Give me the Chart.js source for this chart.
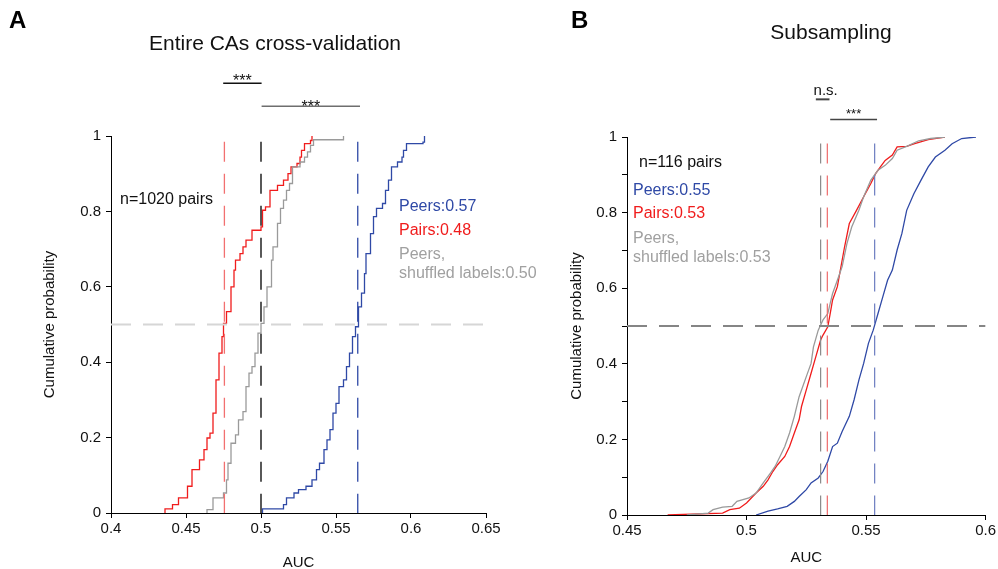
<!DOCTYPE html>
<html><head><meta charset="utf-8">
<script src="https://cdn.jsdelivr.net/npm/chart.js@4/dist/chart.umd.min.js"></script>
<style>
html,body{margin:0;padding:0;background:#fff;}
#wrap{position:relative;width:998px;height:569px;overflow:hidden;background:#fff;}
.pan{position:absolute;top:0;height:575px;}
</style></head><body>
<div id="wrap">
<div class="pan" style="left:520px;width:478px"><canvas id="cB"></canvas></div>
<div class="pan" style="left:0;width:560px"><canvas id="cA"></canvas></div>
</div>
<script>
// ===== Panel A: Entire CAs cross-validation (empirical CDFs) =====
const aPairsAUC = [0.436,0.436,0.441,0.445,0.451,0.454,0.459,0.462,0.464,0.466,0.468,0.470,0.472,0.474,0.475,0.477,0.480,0.482,0.483,0.486,0.488,0.490,0.494,0.500,0.501,0.503,0.506,0.511,0.515,0.518,0.520,0.524,0.526,0.527,0.529,0.533,0.534];
const aPairsCum = [0,0.011,0.022,0.040,0.071,0.115,0.141,0.168,0.199,0.212,0.265,0.353,0.424,0.468,0.503,0.534,0.600,0.644,0.671,0.688,0.706,0.724,0.750,0.759,0.803,0.812,0.856,0.869,0.883,0.900,0.918,0.927,0.944,0.962,0.980,0.988,1.000];
const aShufAUC = [0.464,0.464,0.468,0.475,0.477,0.478,0.480,0.483,0.485,0.488,0.490,0.492,0.494,0.496,0.498,0.500,0.502,0.504,0.507,0.508,0.511,0.513,0.515,0.517,0.519,0.521,0.526,0.529,0.531,0.533,0.535,0.555];
const aShufCum = [0,0.009,0.040,0.053,0.088,0.132,0.185,0.207,0.247,0.269,0.335,0.371,0.388,0.424,0.477,0.503,0.547,0.600,0.671,0.706,0.768,0.808,0.830,0.856,0.874,0.918,0.931,0.944,0.958,0.975,0.990,1.000];
const aPeersAUC = [0.501,0.501,0.515,0.517,0.522,0.525,0.530,0.534,0.537,0.539,0.542,0.544,0.546,0.548,0.550,0.552,0.555,0.557,0.559,0.561,0.563,0.565,0.567,0.569,0.570,0.573,0.575,0.577,0.581,0.583,0.585,0.587,0.591,0.594,0.595,0.597,0.608,0.609];
const aPeersCum = [0,0.011,0.022,0.040,0.053,0.062,0.071,0.088,0.115,0.132,0.168,0.194,0.221,0.265,0.291,0.335,0.353,0.388,0.424,0.468,0.494,0.547,0.583,0.635,0.688,0.741,0.786,0.808,0.821,0.856,0.883,0.918,0.931,0.944,0.962,0.980,0.984,1.000];
const aMedians = [0.4756, 0.5, 0.5645];          // pairs, shuffled, peers
const aXTicks = [0.4,0.45,0.5,0.55,0.6,0.65];
const aXTickLabels = ['0.4','0.45','0.5','0.55','0.6','0.65'];
const aYTicks = [0,0.2,0.4,0.6,0.8,1];
const aYTickLabels = ['0','0.2','0.4','0.6','0.8','1'];
const aLegend = ['Peers:0.57','Pairs:0.48','Peers,','shuffled labels:0.50'];
const aBrackets = [[0.4748,0.5004,'***'],[0.5004,0.5660,'***']];

// ===== Panel B: Subsampling =====
const bPairsAUC = [0.467,0.490,0.493,0.497,0.500,0.502,0.504,0.507,0.509,0.511,0.513,0.516,0.518,0.520,0.522,0.523,0.525,0.527,0.529,0.531,0.532,0.534,0.535,0.536,0.538,0.539,0.541,0.543,0.546,0.549,0.552,0.554,0.556,0.558,0.561,0.563,0.567,0.570,0.576,0.583];
const bPairsCum = [0,0.005,0.014,0.018,0.032,0.045,0.058,0.076,0.093,0.115,0.133,0.155,0.181,0.217,0.252,0.287,0.331,0.375,0.419,0.463,0.476,0.498,0.533,0.569,0.604,0.639,0.709,0.771,0.806,0.842,0.877,0.903,0.921,0.938,0.952,0.974,0.975,0.982,0.993,1.000];
const bShufAUC = [0.475,0.484,0.486,0.490,0.494,0.496,0.501,0.504,0.507,0.510,0.512,0.514,0.516,0.518,0.520,0.522,0.525,0.527,0.528,0.530,0.532,0.534,0.535,0.536,0.538,0.540,0.542,0.544,0.547,0.549,0.552,0.555,0.558,0.561,0.563,0.567,0.572,0.577,0.583];
const bShufCum = [0,0.005,0.014,0.021,0.023,0.036,0.045,0.058,0.085,0.111,0.129,0.155,0.181,0.217,0.261,0.313,0.366,0.401,0.445,0.489,0.516,0.533,0.560,0.586,0.621,0.657,0.718,0.762,0.806,0.842,0.886,0.912,0.925,0.943,0.965,0.975,0.990,0.996,1.000];
const bPeersAUC = [0.504,0.509,0.513,0.517,0.520,0.522,0.525,0.527,0.530,0.532,0.534,0.536,0.538,0.540,0.543,0.545,0.547,0.549,0.551,0.553,0.555,0.557,0.559,0.561,0.563,0.565,0.567,0.570,0.573,0.576,0.579,0.583,0.586,0.590,0.596];
const bPeersCum = [0,0.010,0.016,0.023,0.036,0.049,0.067,0.085,0.098,0.115,0.142,0.181,0.190,0.221,0.261,0.305,0.357,0.401,0.454,0.489,0.533,0.577,0.621,0.648,0.701,0.745,0.806,0.850,0.886,0.921,0.947,0.965,0.982,0.996,1.000];
const bMedians = [0.5338, 0.5310, 0.5536];        // pairs, shuffled, peers
const bXTicks = [0.45,0.5,0.55,0.6];
const bXTickLabels = ['0.45','0.5','0.55','0.6'];
const bYTicks = [0,0.1,0.2,0.3,0.4,0.5,0.6,0.7,0.8,0.9,1];
const bYTickLabels = ['0','','0.2','','0.4','','0.6','','0.8','','1'];
const bLegend = ['Peers:0.55','Pairs:0.53','Peers,','shuffled labels:0.53'];
const bBrackets = [[0.5290,0.5347,'n.s.'],[0.5350,0.5546,'***']];

// ===== helpers =====
const FONT = "'Liberation Sans', Arial, sans-serif";
const RED = '#f01c1c', BLUE = '#2f49a6', GRAY = '#9a9a9a';
const pts = (xs, ys) => xs.map((x, i) => ({x, y: ys[i]}));

const textPlugin = {
  id: 'texts',
  afterDatasetsDraw(chart, args, opts) {
    const ctx = chart.ctx, xs = chart.scales.x, ys = chart.scales.y;
    ctx.save();
    (opts.brackets || []).forEach(b => {
      const x0 = xs.getPixelForValue(b.x0), x1 = xs.getPixelForValue(b.x1), y = ys.getPixelForValue(b.y);
      ctx.strokeStyle = b.color; ctx.lineWidth = b.width; ctx.setLineDash([]);
      ctx.beginPath(); ctx.moveTo(x0, y); ctx.lineTo(x1, y); ctx.stroke();
      ctx.fillStyle = b.textColor; ctx.font = b.font; ctx.textAlign = 'center'; ctx.textBaseline = 'alphabetic';
      ctx.fillText(b.label, (x0 + x1) / 2 + b.dx, y + b.dy);
    });
    (opts.items || []).forEach(t => {
      ctx.fillStyle = t.color; ctx.font = t.font; ctx.textAlign = t.align || 'left'; ctx.textBaseline = t.base || 'middle';
      ctx.fillText(t.text, t.x, t.y);
    });
    ctx.restore();
  }
};

function axis(min, max, ticks, labels, size, titleText, titlePad, tickPad, isX) {
  return {
    type: 'linear', min, max,
    afterBuildTicks: s => { s.ticks = ticks.map(v => ({value: v})); },
    afterFit: s => { if (isX) s.height = size; else s.width = size; },
    grid: {display: true, drawOnChartArea: false, drawTicks: true, tickLength: 5, color: '#000', lineWidth: 1},
    border: {display: true, color: '#000', width: 1},
    ticks: {autoSkip: false, maxRotation: 0, padding: tickPad, color: '#111',
      font: {family: FONT, size: 15},
      callback: (v) => { const i = ticks.findIndex(t => Math.abs(t - v) < 1e-9); return i >= 0 ? labels[i] : ''; }},
    title: {display: true, text: titleText, color: '#111', font: {family: FONT, size: 15}, padding: titlePad}
  };
}

function lineDs(data, color, width, extra) {
  return Object.assign({data, borderColor: color, backgroundColor: color, borderWidth: width,
    pointRadius: 0, fill: false, tension: 0}, extra || {});
}

// ===== Panel A chart =====
new Chart(document.getElementById('cA'), {
  type: 'line',
  data: {datasets: [
    lineDs([{x: 0.4, y: 0.5}, {x: 0.648, y: 0.5}], '#d6d6d6', 2, {borderDash: [20, 12]}),
    lineDs([{x: aMedians[0], y: 0.985}, {x: aMedians[0], y: 0}], '#f27070', 1.3, {borderDash: [20, 12]}),
    lineDs([{x: aMedians[1], y: 0.985}, {x: aMedians[1], y: 0}], '#000000', 1.3, {borderDash: [20, 12]}),
    lineDs([{x: aMedians[2], y: 0.985}, {x: aMedians[2], y: 0}], BLUE, 1.3, {borderDash: [20, 12]}),
    lineDs(pts(aShufAUC, aShufCum), GRAY, 1.3, {stepped: 'before'}),
    lineDs(pts(aPairsAUC, aPairsCum), RED, 1.3, {stepped: 'before'}),
    lineDs(pts(aPeersAUC, aPeersCum), BLUE, 1.3, {stepped: 'before'})
  ]},
  options: {
    responsive: true, maintainAspectRatio: false, animation: false, events: [],
    layout: {padding: {left: 0, top: 136, right: 74, bottom: 0}},
    plugins: {legend: {display: false}, tooltip: {enabled: false},
      texts: {
        brackets: [
          {x0: aBrackets[0][0], x1: aBrackets[0][1], label: aBrackets[0][2], y: 1.14, color: '#111', width: 1.5, textColor: '#111', font: `16px ${FONT}`, dx: 0, dy: 3},
          {x0: aBrackets[1][0], x1: aBrackets[1][1], label: aBrackets[1][2], y: 1.079, color: '#6e6e6e', width: 1.5, textColor: '#111', font: `16px ${FONT}`, dx: 0, dy: 6}
        ],
        items: [
          {text: 'A', x: 9, y: 28, color: '#000', font: `bold 24px ${FONT}`, base: 'alphabetic'},
          {text: 'Entire CAs cross-validation', x: 275, y: 44, color: '#111', font: `21px ${FONT}`, align: 'center'},
          {text: 'n=1020 pairs', x: 120, y: 200, color: '#111', font: `16px ${FONT}`},
          {text: aLegend[0], x: 399, y: 207, color: BLUE, font: `16px ${FONT}`},
          {text: aLegend[1], x: 399, y: 231, color: RED, font: `16px ${FONT}`},
          {text: aLegend[2], x: 399, y: 255, color: '#a0a0a0', font: `16px ${FONT}`},
          {text: aLegend[3], x: 399, y: 274, color: '#a0a0a0', font: `16px ${FONT}`}
        ]
      }
    },
    scales: {
      x: axis(0.4, 0.65, aXTicks, aXTickLabels, 62, 'AUC', {top: 0, bottom: 3}, 2, true),
      y: axis(0, 1, aYTicks, aYTickLabels, 111, 'Cumulative probability', {top: 41, bottom: 0}, 5, false)
    }
  },
  plugins: [textPlugin]
});

// ===== Panel B chart =====
new Chart(document.getElementById('cB'), {
  type: 'line',
  data: {datasets: [
    lineDs([{x: 0.45, y: 0.5}, {x: 0.6, y: 0.5}], '#858585', 2, {borderDash: [20, 12]}),
    lineDs([{x: bMedians[1], y: 0.983}, {x: bMedians[1], y: 0}], '#8c8c8c', 1.2, {borderDash: [20, 12]}),
    lineDs([{x: bMedians[0], y: 0.983}, {x: bMedians[0], y: 0}], '#ee6a6a', 1.2, {borderDash: [20, 12]}),
    lineDs([{x: bMedians[2], y: 0.983}, {x: bMedians[2], y: 0}], '#6b7cc0', 1.2, {borderDash: [20, 12]}),
    lineDs(pts(bShufAUC, bShufCum), GRAY, 1.3),
    lineDs(pts(bPairsAUC, bPairsCum), RED, 1.3),
    lineDs(pts(bPeersAUC, bPeersCum), BLUE, 1.3)
  ]},
  options: {
    responsive: true, maintainAspectRatio: false, animation: false, events: [],
    layout: {padding: {left: 0, top: 137, right: 10, bottom: 0}},
    plugins: {legend: {display: false}, tooltip: {enabled: false},
      texts: {
        brackets: [
          {x0: bBrackets[0][0], x1: bBrackets[0][1], label: bBrackets[0][2], y: 1.0996, color: '#444', width: 2, textColor: '#111', font: `15px ${FONT}`, dx: 3, dy: -4},
          {x0: bBrackets[1][0], x1: bBrackets[1][1], label: bBrackets[1][2], y: 1.046, color: '#444', width: 1.5, textColor: '#111', font: `13px ${FONT}`, dx: 0, dy: -2}
        ],
        items: [
          {text: 'B', x: 51, y: 28, color: '#000', font: `bold 24px ${FONT}`, base: 'alphabetic'},
          {text: 'Subsampling', x: 311, y: 33, color: '#111', font: `21px ${FONT}`, align: 'center'},
          {text: 'n=116 pairs', x: 119, y: 163, color: '#111', font: `16px ${FONT}`},
          {text: bLegend[0], x: 113, y: 191, color: BLUE, font: `16px ${FONT}`},
          {text: bLegend[1], x: 113, y: 214, color: RED, font: `16px ${FONT}`},
          {text: bLegend[2], x: 113, y: 239, color: '#a0a0a0', font: `16px ${FONT}`},
          {text: bLegend[3], x: 113, y: 258, color: '#a0a0a0', font: `16px ${FONT}`}
        ]
      }
    },
    scales: {
      x: axis(0.45, 0.6, bXTicks, bXTickLabels, 60, 'AUC', {top: 0, bottom: 8}, 2, true),
      y: axis(0, 1, bYTicks, bYTickLabels, 107, 'Cumulative probability', {top: 48, bottom: 0}, 5, false)
    }
  },
  plugins: [textPlugin]
});
</script>
</body></html>
